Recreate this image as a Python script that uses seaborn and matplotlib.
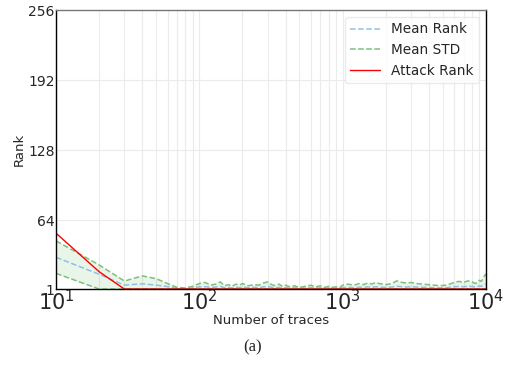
import numpy as np
import pandas as pd
import matplotlib
matplotlib.use("Agg")
import matplotlib.pyplot as plt
import seaborn as sns

# number of traces
traces = [10, 20, 30, 40, 50, 60, 70, 80, 90, 100,
          110, 120, 130, 140, 150, 160, 170, 180, 190, 200,
          220, 240, 260, 280, 300, 320, 340, 360, 380, 400,
          430, 460, 500, 550, 600, 650, 700, 750, 800, 850, 900, 950,
          1000, 1100, 1200, 1300, 1400, 1500, 1600, 1700, 1800, 1900, 2000,
          2200, 2400, 2600, 2800, 3000, 3300, 3600, 4000, 4400, 4800, 5200,
          5600, 6000, 6500, 7000, 7500, 8000, 8500, 9000, 9300, 9600, 10000]

mean_rank = [30, 14.5, 4.6, 5.8, 4.6, 3.2, 1.6, 1.4, 2, 3,
             3.2, 2.5, 2.8, 3.4, 2.2, 2.6, 2, 2.6, 2.3, 2.8,
             2.2, 2.5, 2.3, 3, 3.3, 2.5, 2.1, 2.6, 1.9, 2.3,
             1.8, 2.1, 1.6, 1.9, 2.3, 1.8, 2.1, 1.6, 1.9, 1.6, 1.8, 1.4,
             2.3, 2.6, 2.3, 2.8, 2.4, 3, 2.6, 3.1, 2.8, 2.6, 2.4,
             2.8, 3.6, 3.1, 2.9, 3.1, 2.8, 2.6, 2.4, 2.2, 2.1, 2.2,
             2.6, 3.1, 3.4, 3.1, 3.6, 3.3, 2.8, 3.8, 3.5, 4.4, 5.5]

std_upper = [45, 23, 8.3, 13, 10.5, 6, 2.5, 2, 3.5, 6,
             7, 4.5, 5.5, 7.5, 4, 5, 3.5, 5.5, 4.5, 6,
             4, 5, 4.5, 6.5, 7.5, 5, 4, 5.5, 3.5, 4.5,
             3, 4, 2.5, 3.5, 4.5, 3, 4, 2.5, 3.5, 2.5, 3, 2,
             4.5, 5.5, 4.5, 6, 5, 6.5, 5.5, 7, 6, 5.5, 5,
             6, 8.5, 7, 6.5, 7, 6, 5.5, 5, 4.5, 4, 4.5,
             5.5, 7, 8, 7, 8.5, 7.5, 6, 9, 8, 11, 15]

std_lower = [15.3] + [1.0] * (len(traces) - 1)

attack_rank = [52, 16.8] + [1.0] * (len(traces) - 2)

df = pd.DataFrame({"traces": traces, "mean": mean_rank, "upper": std_upper,
                   "lower": std_lower, "attack": attack_rank})

sns.set_theme(style="whitegrid")
plt.rcParams["font.family"] = ["DejaVu Sans"]

fig = plt.figure(figsize=(5.05, 3.72), dpi=100)
ax = fig.add_axes([0.111, 0.223, 0.851, 0.750])

blue = "#8fc0e3"
green = "#7cc07c"

ax.fill_between(df["traces"], df["lower"], df["upper"], color="#2ca02c", alpha=0.1, lw=0)
sns.lineplot(data=df, x="traces", y="mean", ax=ax, color=blue, ls="--", lw=1.1, label="Mean Rank")
sns.lineplot(data=df, x="traces", y="upper", ax=ax, color=green, ls="--", lw=1.1, label="Mean STD")
sns.lineplot(data=df, x="traces", y="lower", ax=ax, color=green, ls="--", lw=1.1, label="_nolegend_")
sns.lineplot(data=df, x="traces", y="attack", ax=ax, color="red", lw=1, label="Attack Rank")

ax.set_xscale("log")
ax.set_xlim(10, 10000)
ax.set_ylim(1, 256)
ax.set_yticks([1, 64, 128, 192, 256])
ax.tick_params(axis="y", labelsize=10, pad=1, length=0)
ax.tick_params(axis="x", which="major", labelsize=15, pad=0, length=0)
ax.tick_params(axis="x", which="minor", length=0)
ax.grid(True, which="major", color="#ebebeb", lw=0.8)
ax.grid(True, which="minor", axis="x", color="#ebebeb", lw=0.8)
ax.set_xlabel("Number of traces", fontsize=9.5, labelpad=0)
ax.set_ylabel("Rank", fontsize=9.5, labelpad=2)

for side in ["left", "bottom", "right"]:
    ax.spines[side].set_color("black")
    ax.spines[side].set_linewidth(1)
ax.spines["top"].set_color("#777777")
ax.spines["top"].set_linewidth(1)

leg = ax.legend(loc="upper right", fontsize=9.8, frameon=True, handlelength=2.2)
leg.get_frame().set_edgecolor("#e6e6e6")

fig.text(0.5, 0.067, "(a)", ha="center", va="center", fontsize=12,
         family=["Liberation Serif", "DejaVu Serif"])

fig.savefig("out.png", dpi=100)
